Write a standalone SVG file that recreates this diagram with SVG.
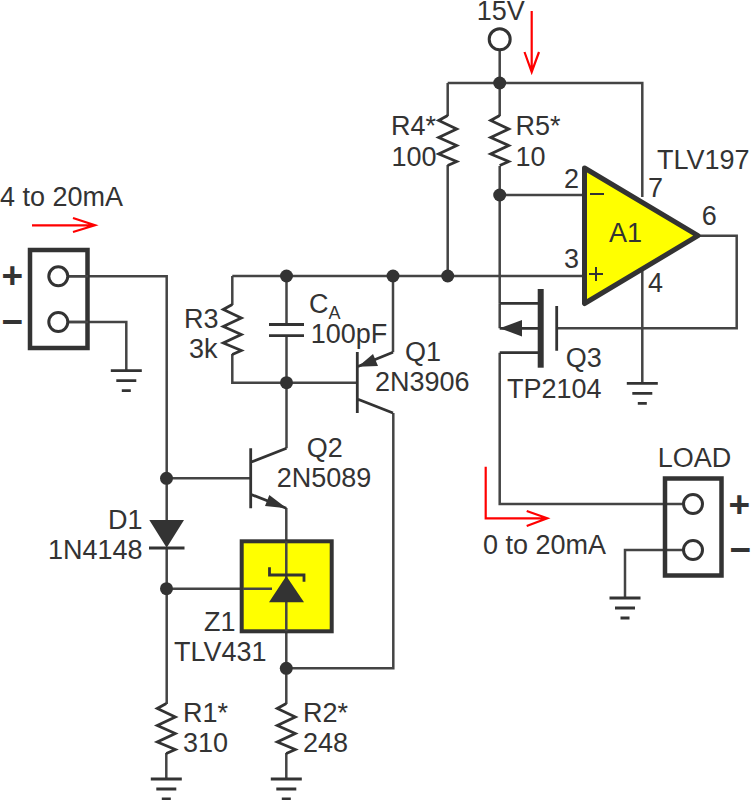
<svg xmlns="http://www.w3.org/2000/svg" width="751" height="800" viewBox="0 0 751 800">
<style>
text{font-family:"Liberation Sans",Arial,sans-serif;font-size:27px;fill:#333}
.w{fill:none;stroke:#444;stroke-width:2.5}
.z{fill:none;stroke:#333;stroke-width:2.800}
.r{fill:none;stroke:#f00;stroke-width:2.2}
.d{fill:#333}
.o{fill:#fff;stroke:#333;stroke-width:3}
.bar{fill:none;stroke:#333;stroke-width:2.800}
.big{font-weight:bold;font-size:37px}
</style>
<defs>
<path id="res" class="z" d="M0 0L-9 5L9 13.500L-9 22L9 30L-9 38.500L9 46L0 50"/>
<g id="gnd" class="bar"><path d="M-15.500 0H15.500M-10 10H10M-4.500 20H4.500"/></g>
<circle id="dot" class="d" r="6.500"/>
</defs>
<rect width="751" height="800" fill="#fff"/>
<g id="connectors" class="w">
<path d="M499.700 50V116M499.700 166V303.300M447.700 83H642.300V197M447.700 83V116M447.700 165V276"/>
<path d="M232.300 276H584M232.300 276V305M232.300 354V382.700H357.300M286.500 276V324.500M286.500 335.700V448.300M393 276V352.300"/>
<path d="M499.700 195H584M642.300 270V383.300M700 235.700H736.700V328.300H556.700"/>
<path d="M499.700 303.300V328.300M499.700 352.700V504H684"/>
<path d="M68 276.300H166.700V520M68 322H126.300V370.700M166.700 478.300H250.700M166.700 548V704M166.700 588.700H272"/>
<path d="M286.300 508V704M286.300 668.300H393.300V413"/>
<path d="M166.300 753V779M286.300 753V779M684 550H625V598"/>
</g>
<g id="junctions">
<use href="#dot" x="499.700" y="83"/><use href="#dot" x="499.700" y="195"/><use href="#dot" x="447.700" y="276"/><use href="#dot" x="393" y="276"/><use href="#dot" x="286.500" y="276"/><use href="#dot" x="286.500" y="382.700"/><use href="#dot" x="166.500" y="478.300"/><use href="#dot" x="166.500" y="588.700"/><use href="#dot" x="286.300" y="668.300"/>
</g>
<g id="supply"><circle class="o" cx="499.700" cy="39.300" r="10.500"/><text x="476.700" y="19.500">15V</text></g>
<g id="supply-arrow" class="r"><path d="M531.700 11V72M524.500 52L531.700 72L539 52"/></g>
<g id="R4"><use href="#res" x="447.700" y="115.500"/><text x="391" y="135">R4*</text><text x="391.500" y="166">100</text></g>
<g id="R5"><use href="#res" x="499.700" y="115.500"/><text x="515.500" y="135">R5*</text><text x="515.500" y="166">10</text></g>
<g id="A1">
<path d="M584.500 168L698 235.700L584.500 303.500Z" fill="#ff0" stroke="#333" stroke-width="5" stroke-linejoin="round"/>
<path d="M590 194H604M589 274H603M596 267V281" fill="none" stroke="#333" stroke-width="2"/>
<text x="609" y="241.700">A1</text><text x="657" y="169">TLV197</text>
<text x="564" y="188">2</text><text x="648" y="197">7</text><text x="701.700" y="225">6</text><text x="564" y="268">3</text><text x="648" y="291.700">4</text>
</g>
<g id="gnd-A1"><use href="#gnd" x="642.300" y="383.300"/></g>
<g id="R3"><use href="#res" x="232.300" y="304.500"/><text x="184" y="328">R3</text><text x="189" y="358">3k</text></g>
<g id="CA">
<path class="bar" d="M269 324.500H304M269 335.700H304"/>
<text x="309" y="313">C<tspan dy="6" style="font-size:18px">A</tspan></text><text x="310.700" y="343.300">100pF</text>
</g>
<g id="Q1">
<path class="bar" d="M357.300 352V413M357.300 399L393 413M357.300 366.700L393 352.300"/>
<path class="d" d="M358 366.700L373 354L378 366Z"/>
<text x="405" y="360.700">Q1</text><text x="375" y="391">2N3906</text>
</g>
<g id="Q3">
<path d="M540.700 289V367.700" fill="none" stroke="#333" stroke-width="6"/>
<path class="bar" d="M556.700 306V350.700M499.700 303.300H540M499.700 328.300H540M499.700 352.700H540"/>
<path class="d" d="M499.700 328.300L522 320V336.500Z"/>
<text x="565.700" y="367.300">Q3</text><text x="507" y="398.300">TP2104</text>
</g>
<g id="Q2">
<path class="bar" d="M250.700 448.300V508.300M250.700 462.300L286.500 448.300M250.700 494.300L286.300 508.300"/>
<path class="d" d="M286.700 508.300L269.300 495L265 506Z"/>
<text x="306.700" y="456.700">Q2</text><text x="276.700" y="487">2N5089</text>
</g>
<g id="D1">
<path class="d" d="M149.300 520H184L166.700 547.700Z"/>
<path class="bar" d="M149 548H184.500"/>
<text x="108" y="529">D1</text><text x="48" y="559">1N4148</text>
</g>
<g id="Z1">
<rect x="241.700" y="541.300" width="90" height="90" fill="#ff0" stroke="#333" stroke-width="4"/>
<path class="w" d="M286.300 541.300V631.300M243 588.700H272"/>
<path class="d" d="M286.300 576L304 602.300H269Z"/>
<path class="bar" d="M269.500 567.300V575H304V581.700"/>
<text x="204" y="630.700">Z1</text><text x="174" y="661">TLV431</text>
</g>
<g id="R1"><use href="#res" x="166.300" y="703.500"/><text x="183" y="721.700">R1*</text><text x="183" y="751.700">310</text></g>
<g id="R2"><use href="#res" x="286.300" y="703.500"/><text x="303" y="721.700">R2*</text><text x="303" y="751.700">248</text></g>
<g id="gnd-R1"><use href="#gnd" x="166.300" y="779"/></g>
<g id="gnd-R2"><use href="#gnd" x="286.300" y="779"/></g>
<g id="input">
<rect x="30" y="250" width="57.500" height="98" fill="none" stroke="#333" stroke-width="4.500"/>
<path class="w" d="M68 276.300H88M68 322H88"/>
<circle class="o" cx="58.300" cy="276.300" r="9.500"/><circle class="o" cx="58.300" cy="322" r="9.500"/>
<text class="big" x="1.500" y="288">+</text><text class="big" x="1.500" y="334">−</text>
<text x="0" y="206">4 to 20mA</text>
<path class="r" d="M32 225.300H95M73 218L95 225.300L73 232"/>
</g>
<g id="gnd-input"><use href="#gnd" x="126.300" y="370.700"/></g>
<g id="LOAD">
<rect x="665" y="478.500" width="56.500" height="97" fill="none" stroke="#333" stroke-width="4.500"/>
<circle class="o" cx="693" cy="504" r="9.500"/><circle class="o" cx="693" cy="550" r="9.500"/>
<text x="657.700" y="466.700">LOAD</text>
<text class="big" x="728.500" y="517">+</text><text class="big" x="729.500" y="562">−</text>
</g>
<g id="gnd-load"><use href="#gnd" x="625" y="598"/></g>
<g id="output-arrow">
<path class="r" d="M485.700 466.700V518.300H547.300M526.700 511L547.300 518.300L526.700 526"/>
<text x="483" y="554">0 to 20mA</text>
</g>
</svg>
